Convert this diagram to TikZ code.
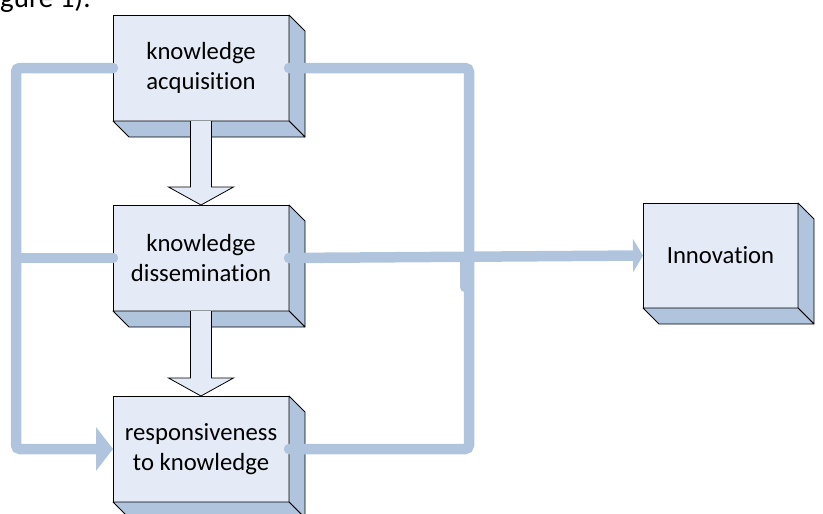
\documentclass[tikz,border=0pt]{standalone}
\usepackage{fontspec}
\setmainfont{Carlito}[Ligatures=NoCommon]
\usetikzlibrary{calc,arrows.meta}
\definecolor{frontc}{RGB}{228,235,246}
\definecolor{sidec}{RGB}{176,196,222}
\definecolor{linec}{RGB}{176,196,222}
\tikzset{
  box/.style={draw=black, line width=0.8pt, fill=frontc, minimum width=176pt, minimum height=106pt,
    inner sep=0pt, outer sep=0pt, align=center, font=\fontsize{24.7}{30}\selectfont},
  sideface/.style={draw=black, line width=0.8pt, fill=sidec, line join=round},
  conn/.style={draw=linec, line width=10.5pt, line cap=round, rounded corners=4pt},
  blockarrow/.style={draw=black, line width=0.8pt, fill=frontc, line join=miter},
}
\newcommand{\threed}[1]{%
  \filldraw[sideface] (#1.north east) -- ++(16,16) -- ($(#1.south east)+(16,16)$) -- (#1.south east) -- cycle;
  \filldraw[sideface] (#1.south west) -- ($(#1.south west)+(16,16)$) -- ($(#1.south east)+(16,16)$) -- (#1.south east) -- cycle;}
\newcommand{\blockarr}[2]{%
  \filldraw[blockarrow] ($(#1.south)+(-10.5,0)$) -- ($(#2.north)+(-10.5,-18)$) -- ($(#2.north)+(-32.5,-18)$)
   -- (#2.north) -- ($(#2.north)+(32.5,-18)$) -- ($(#2.north)+(10.5,-18)$) -- ($(#1.south)+(10.5,0)$);}
\begin{document}
\begin{tikzpicture}[x=1pt,y=-1pt]
\useasboundingbox (0,0) rectangle (823,514);
\clip (0,0) rectangle (823,514);
\node[anchor=base west, inner sep=0pt, font=\fontsize{29}{35}\selectfont] (fig) at (0,7) {gure 1).};
% boxes
\node[box] (acq) at (201,68) {knowledge\\acquisition};
\threed{acq}
\node[box] (dis) at (201,258) {knowledge\\dissemination};
\threed{dis}
\node[box] (resp) at (201,449) {responsiveness\\to knowledge};
\threed{resp}
\node[box, minimum width=155pt, minimum height=105pt] (inn) at (720.5,255.5) {Innovation};
\threed{inn}
% block arrows
\blockarr{acq}{dis}
\blockarr{dis}{resp}
% connectors
\coordinate (lt) at (16,68);
\coordinate (lb) at (16,449);
\coordinate (lm) at (16,258);
\coordinate (rt) at (469,68);
\coordinate (rb) at (469,449);
\coordinate (j1) at (465,258);
\coordinate (j2) at (465,287);
\draw[conn, -{Triangle[length=17pt,width=43pt]}] (acq.west) -- (lt) -- (lb) -- (resp.west);
\draw[conn] (dis.west) -- (lm);
\draw[conn] (acq.east) -- (rt) -- (rb) -- (resp.east);
\draw[conn] (j1) -- (j2);
\draw[conn, -{Triangle[length=10pt,width=33pt]}] (dis.east) -- (inn.west);
\end{tikzpicture}
\end{document}
